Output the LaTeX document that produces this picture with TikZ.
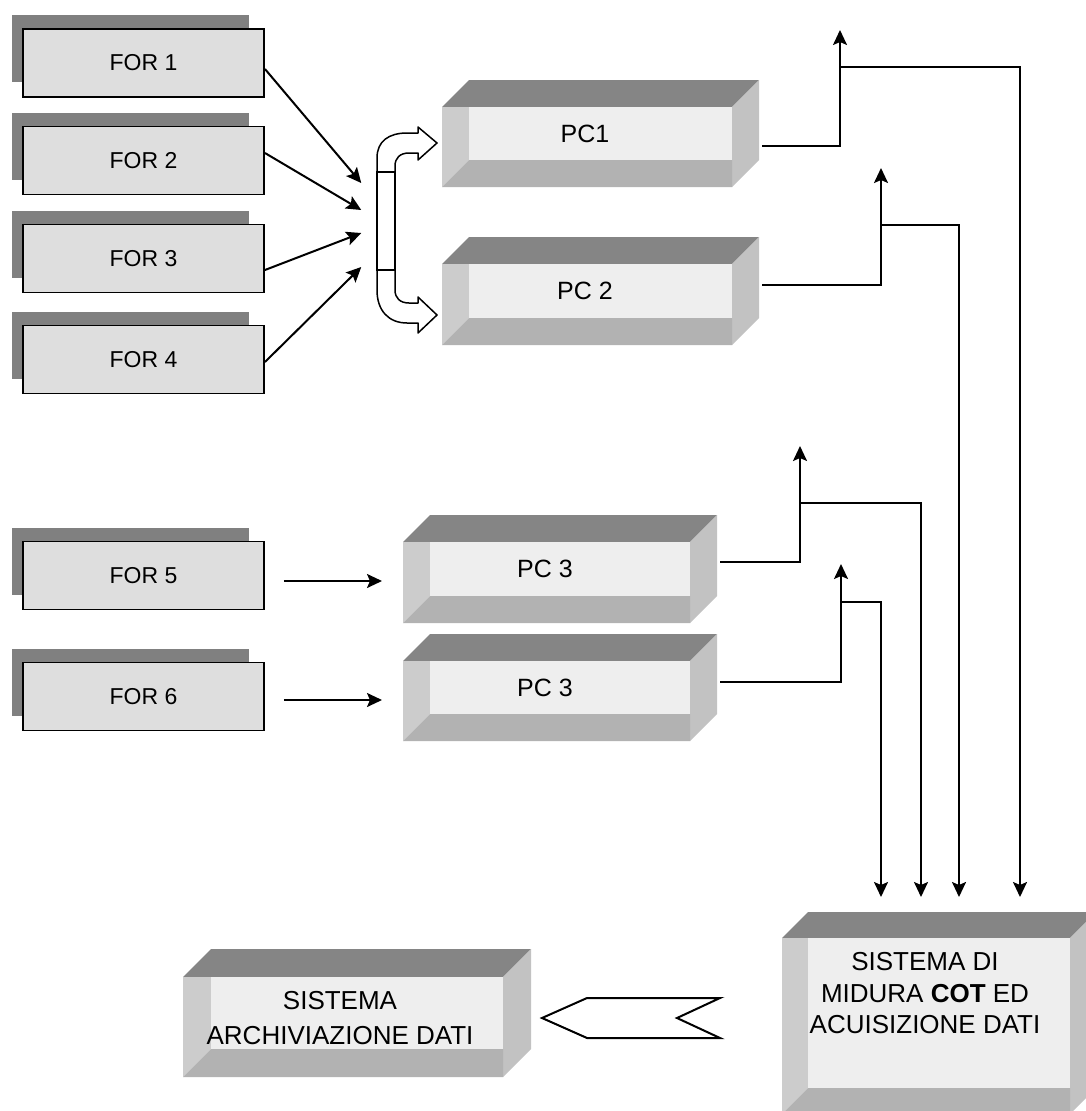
\documentclass[tikz,border=0pt]{standalone}
\usepackage{fontspec}
\setmainfont{Liberation Sans}
\usetikzlibrary{arrows.meta}

\definecolor{forfill}{HTML}{DEDEDE}
\definecolor{forshade}{HTML}{808080}
\definecolor{cubetop}{HTML}{858585}
\definecolor{cubeside}{HTML}{C2C2C2}
\definecolor{cubeleft}{HTML}{CCCCCC}
\definecolor{cubebottom}{HTML}{B2B2B2}
\definecolor{cubefront}{HTML}{EEEEEE}

% Bevelled box: left, top, right, bottom of the front face, depth
\newcommand\cubeshape[5]{%
  \fill[cubetop] (#1,#2) -- (#1+#5,#2-#5) -- (#3+#5,#2-#5) -- (#3,#2) -- cycle;
  \fill[cubeside] (#3,#2) -- (#3+#5,#2-#5) -- (#3+#5,#4-#5) -- (#3,#4) -- cycle;
  \fill[cubeleft] (#1,#2) -- (#1+#5,#2) -- (#1+#5,#4-#5) -- (#1,#4) -- cycle;
  \fill[cubebottom] (#1,#4) -- (#1+#5,#4-#5) -- (#3,#4-#5) -- (#3,#4) -- cycle;
  \fill[cubefront] (#1+#5,#2) rectangle (#3,#4-#5);
}

% Source box with its dark offset backing: name, centre x, centre y, text
\newcommand\sourcebox[4]{%
  \fill[forshade] (#2-131.5,#3-48) rectangle (#2+105.5,#3+19);
  \node[forbox] (#1) at (#2,#3) {#4};
}

\begin{document}
\begin{tikzpicture}[x=1pt,y=-1pt,
  forbox/.style={draw, line width=1.9pt, fill=forfill, minimum width=241,
    minimum height=68, inner sep=0pt, font=\fontsize{23}{27}\selectfont},
  cubebody/.style={draw=none, inner sep=0pt, outer sep=0pt},
  pclabel/.style={inner sep=0pt, font=\fontsize{25}{30}\selectfont},
  biglabel/.style={inner sep=0pt, align=center},
  wire/.style={line width=2pt},
  arrowed/.style={-{Stealth[length=15pt,width=14pt,inset=3pt]}},
  bend arrow/.style={line width=1.5pt, fill=white, line join=round}]

\useasboundingbox (0,0) rectangle (1086,1111);
\clip (0,0) rectangle (1086,1111);
\fill[white] (0,0) rectangle (1086,1111);

% ---- source boxes ----
\sourcebox{f1}{143.5}{63}{FOR 1}
\sourcebox{f2}{143.5}{160.5}{FOR 2}
\sourcebox{f3}{143.5}{258.5}{FOR 3}
\sourcebox{f4}{143.5}{359.5}{FOR 4}
\sourcebox{f5}{143.5}{575.5}{FOR 5}
\sourcebox{f6}{143.5}{696.5}{FOR 6}

% ---- processing units ----
\cubeshape{442}{107}{732}{187}{27}
\node[cubebody, minimum width=290, minimum height=80] (pc1) at (587,147) {};
\node[pclabel] (pc1-text) at (585,133.5) {PC1};

\cubeshape{442}{264}{732}{345}{27}
\node[cubebody, minimum width=290, minimum height=81] (pc2) at (587,304.5) {};
\node[pclabel] (pc2-text) at (585,291) {PC 2};

\cubeshape{403}{542}{690}{623}{27}
\node[cubebody, minimum width=287, minimum height=81] (pc3a) at (546.5,582.5) {};
\node[pclabel] (pc3a-text) at (545,568.5) {PC 3};

\cubeshape{403}{661}{690}{741}{27}
\node[cubebody, minimum width=287, minimum height=80] (pc3b) at (546.5,701) {};
\node[pclabel] (pc3b-text) at (545,687.5) {PC 3};

% ---- acquisition system ----
\cubeshape{782}{938}{1070}{1114}{26}
\node[cubebody, minimum width=288, minimum height=176] (sis) at (926,1026) {};
\node[biglabel, font=\fontsize{26}{31.5}\selectfont] (sis-text) at (925,993.5)
  {SISTEMA DI\\MIDURA \textbf{COT} ED\\ACUISIZIONE DATI};

% ---- archive ----
\cubeshape{183}{977}{503}{1077}{28}
\node[cubebody, minimum width=320, minimum height=100] (arch) at (343,1027) {};
\node[biglabel, font=\fontsize{26}{35}\selectfont] (arch-text) at (340,1018.5)
  {SISTEMA\\ARCHIVIAZIONE DATI};

% ---- split arrow feeding PC1 and PC2 ----
\draw[bend arrow] (377,172) -- (377,158) .. controls (377,141) and (389,133) .. (407,133)
  -- (418,133) -- (418,127) -- (437,143) -- (418,160) -- (418,153) -- (409,153)
  .. controls (400,153) and (395,158) .. (395,166) -- (395,172);
\draw[bend arrow] (377,270) -- (377,290) .. controls (377,311) and (389,323) .. (407,323)
  -- (418,323) -- (418,333) -- (437,315) -- (418,297) -- (418,303) -- (409,303)
  .. controls (400,303) and (395,298) .. (395,290) -- (395,270);
\node[draw, line width=1.5pt, fill=white, minimum width=18, minimum height=98,
  inner sep=0pt] (merge) at (386,221) {};

% ---- inputs ----
\draw[wire,arrowed] ([shift={(0,6)}]f1.east) -- ([shift={(-15,-38)}]merge.west);
\draw[wire,arrowed] ([shift={(0,-7.5)}]f2.east) -- ([shift={(-15,-11)}]merge.west);
\draw[wire,arrowed] ([shift={(0,11.5)}]f3.east) -- ([shift={(-15,12)}]merge.west);
\draw[wire,arrowed] ([shift={(0,2.5)}]f4.east) -- ([shift={(-15,46)}]merge.west);
\draw[wire,arrowed] ([shift={(19,5.5)}]f5.east) -- ([shift={(-21,-1.5)}]pc3a.west);
\draw[wire,arrowed] ([shift={(19,3.5)}]f6.east) -- ([shift={(-21,-1)}]pc3b.west);

% ---- outputs ----
\coordinate (t1) at (840,30);   \coordinate (j1) at (840,67);
\coordinate (t2) at (881,168);  \coordinate (j2) at (881,225);
\coordinate (t3) at (800,446);  \coordinate (j3) at (800,503);
\coordinate (t4) at (841,564);  \coordinate (j4) at (841,602);
\coordinate (s1) at (881,897);  \coordinate (s2) at (921,897);
\coordinate (s3) at (959,897);  \coordinate (s4) at (1020,897);

\draw[wire,arrowed] ([shift={(30,-1)}]pc1.east) -| (t1);
\draw[wire,arrowed] (j1) -| (s4);
\draw[wire,arrowed] ([shift={(30,-19.5)}]pc2.east) -| (t2);
\draw[wire,arrowed] (j2) -| (s3);
\draw[wire,arrowed] ([shift={(30,-20.5)}]pc3a.east) -| (t3);
\draw[wire,arrowed] (j3) -| (s2);
\draw[wire,arrowed] ([shift={(30,-19)}]pc3b.east) -| (t4);
\draw[wire,arrowed] (j4) -| (s1);

% ---- transfer to archive ----
\draw[line width=2pt, fill=white, line join=miter]
  (542,1018) -- (587,998) -- (720,998) -- (677,1018) -- (720,1038) -- (587,1038) -- cycle;

\end{tikzpicture}
\end{document}
